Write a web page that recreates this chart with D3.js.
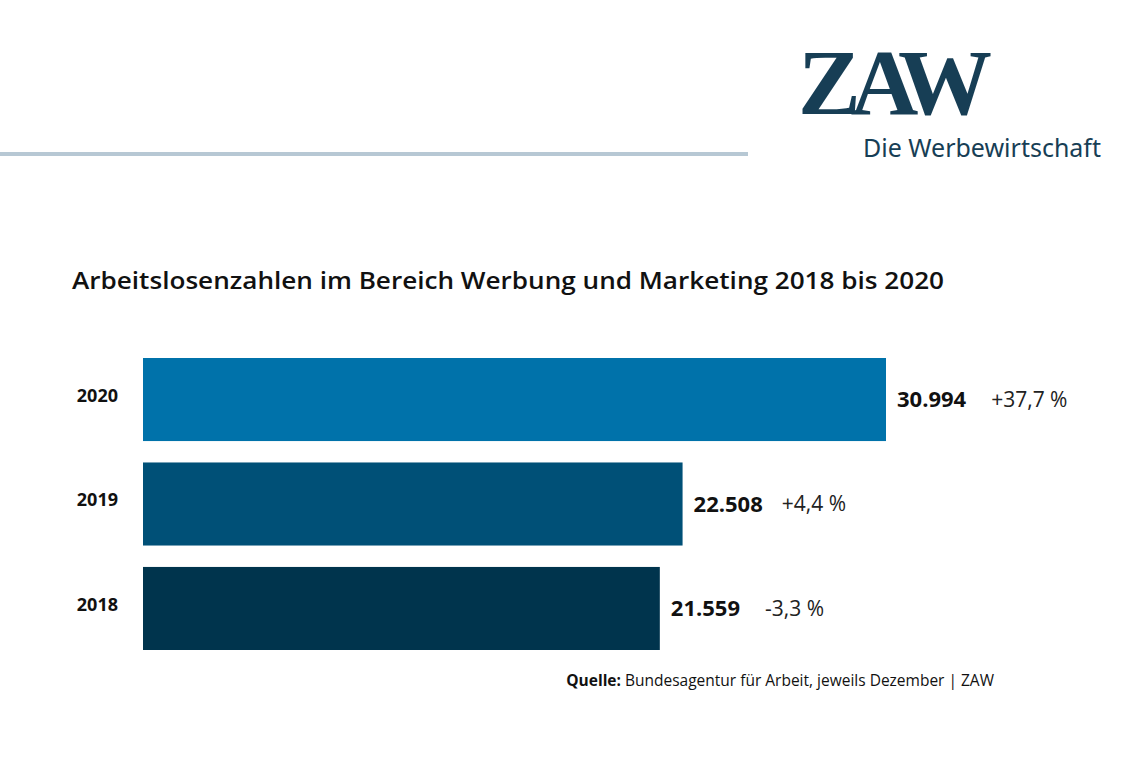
<!DOCTYPE html>
<html><head><meta charset="utf-8">
<script src="https://cdn.jsdelivr.net/npm/d3@7/dist/d3.min.js"></script>
<style>body{margin:0;background:#fff}</style></head>
<body><svg id="c" width="1128" height="774"></svg>
<script>
const years = ["2020","2019","2018"];
const values = [30994, 22508, 21559];
const valueLabels = ["30.994","22.508","21.559"];
const changes = ["+37,7 %","+4,4 %","-3,3 %"];
const colors = ["#0072aa","#005077","#00344d"];

const svg = d3.select("#c");
const font = "'Open Sans', 'Noto Sans', sans-serif";
svg.append("rect").attr("width",1128).attr("height",774).attr("fill","#fff");
svg.append("line").attr("x1",0).attr("x2",748).attr("y1",154).attr("y2",154).attr("stroke","#b7c8d4").attr("stroke-width",4);
svg.append("text").attr("x",890).attr("y",114).attr("text-anchor","middle").attr("font-family","'Liberation Serif', serif")
  .attr("font-weight",700).attr("font-size",94).attr("letter-spacing",-10).attr("fill","#173e55").text("ZAW");
svg.append("text").attr("x",1101).attr("y",157).attr("text-anchor","end").attr("font-family","'Noto Sans', sans-serif")
  .attr("font-size",25).attr("fill","#173e55").text("Die Werbewirtschaft");

svg.append("text").attr("x",72).attr("y",289).attr("font-family",font).attr("font-weight",600)
  .attr("font-size",23).attr("textLength",872).attr("lengthAdjust","spacingAndGlyphs").attr("fill","#111")
  .text("Arbeitslosenzahlen im Bereich Werbung und Marketing 2018 bis 2020");

const x = d3.scaleLinear().domain([0,30994]).range([143,886]);
const y = d3.scaleBand().domain(years).range([358,650]).paddingInner(0.205).paddingOuter(0);

const g = svg.append("g");
years.forEach((yr,i)=>{
  const yy = y(yr), h = y.bandwidth();
  g.append("rect").attr("x",x(0)).attr("y",yy).attr("width",x(values[i])-x(0)).attr("height",h).attr("fill",colors[i]);
  g.append("text").attr("x",118).attr("y",yy+h/2-4).attr("dy","0.35em").attr("text-anchor","end")
    .attr("font-family",font).attr("font-weight",700).attr("font-size",18).attr("fill","#111").text(yr);
  const vt = g.append("text").attr("x",x(values[i])+11).attr("y",yy+h/2).attr("dy","0.35em")
    .attr("font-family",font).attr("font-weight",700).attr("font-size",22).attr("fill","#111").text(valueLabels[i]);
  const w = vt.node().getComputedTextLength();
  g.append("text").attr("x",x(values[i])+11+w+[25,19,25][i]).attr("y",yy+h/2).attr("dy","0.35em")
    .attr("font-family",font).attr("font-size",21).attr("fill","#222").text(changes[i]);
});

const src = svg.append("text").attr("x",994).attr("y",686).attr("text-anchor","end").attr("font-family",font)
  .attr("font-size",15.5).attr("fill","#111");
src.append("tspan").attr("font-weight",700).text("Quelle: ");
src.append("tspan").text("Bundesagentur für Arbeit, jeweils Dezember | ZAW");
</script></body></html>
